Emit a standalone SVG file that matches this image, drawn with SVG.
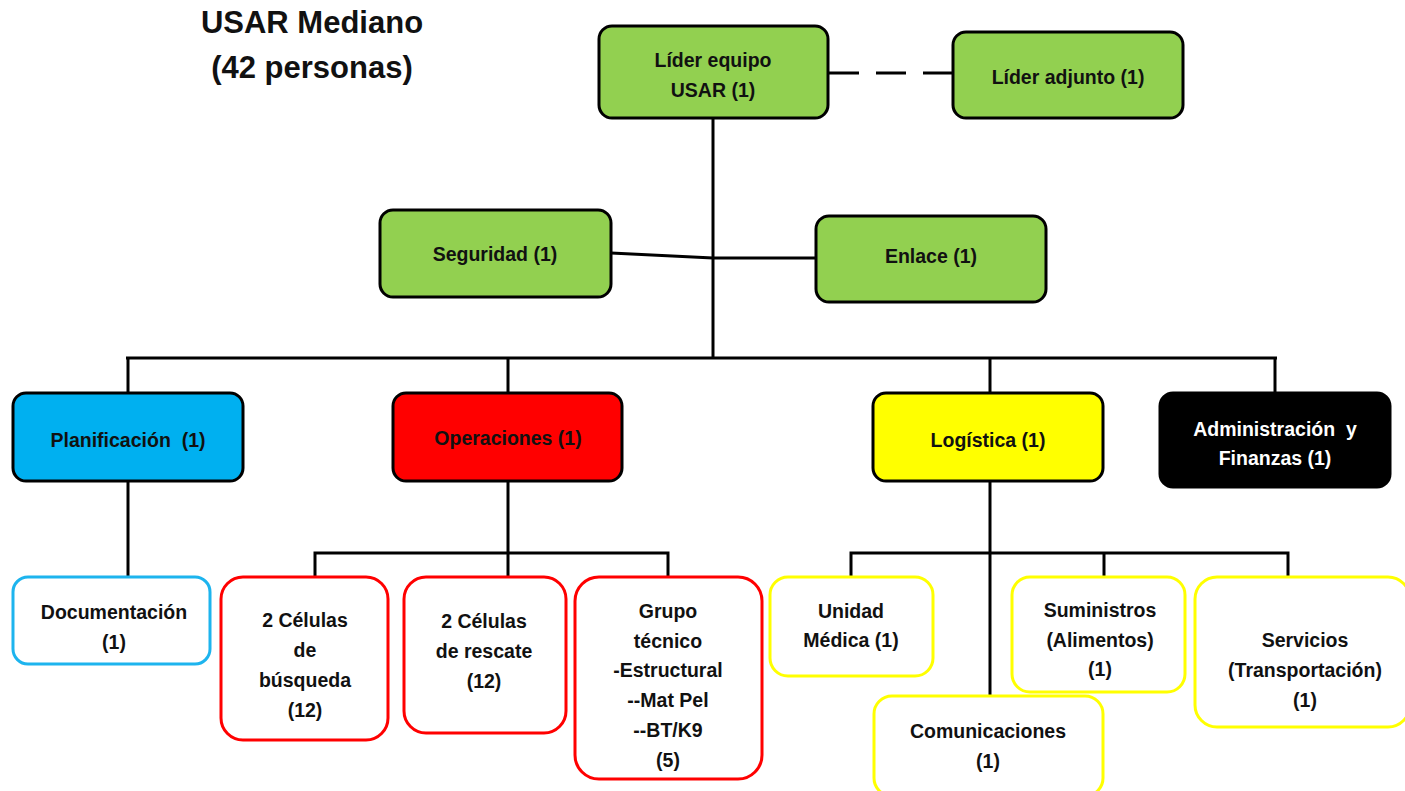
<svg xmlns="http://www.w3.org/2000/svg" width="1405" height="791" viewBox="0 0 1405 791">
<style>
text{font-family:"Liberation Sans",Arial,sans-serif;font-weight:bold;font-size:19.5px;text-anchor:middle;fill:#111}
.title{font-size:31px}
.g{fill:#92D050;stroke:#000;stroke-width:3}
.b{fill:#00B0F0;stroke:#000;stroke-width:3}
.r{fill:#FF0000;stroke:#000;stroke-width:3}
.y{fill:#FFFF00;stroke:#000;stroke-width:3}
.k{fill:#000;stroke:#000;stroke-width:3}
.cb{fill:#fff;stroke:#1DB4EE;stroke-width:3}
.cr{fill:#fff;stroke:#FF0000;stroke-width:3}
.cy{fill:#fff;stroke:#FFFF00;stroke-width:3}
.w{fill:#fff}
#connectors line,#connectors polyline{stroke:#000;stroke-width:3;fill:none}
</style>
<rect width="1405" height="791" fill="#fff"/>
<g id="title">
<text class="title" x="312" y="33">USAR Mediano</text>
<text class="title" x="312" y="78">(42 personas)</text>
</g>
<g id="connectors">
<line x1="829" y1="73" x2="953" y2="73" stroke-dasharray="30 17"/>
<line x1="713" y1="118" x2="713" y2="358"/>
<polyline points="611,253 713,258 816,258"/>
<line x1="126" y1="358" x2="1277" y2="358"/>
<line x1="128" y1="358" x2="128" y2="393"/>
<line x1="508" y1="358" x2="508" y2="393"/>
<line x1="990" y1="358" x2="990" y2="393"/>
<line x1="1275" y1="358" x2="1275" y2="393"/>
<line x1="128" y1="481" x2="128" y2="577"/>
<line x1="508" y1="481" x2="508" y2="577"/>
<polyline points="315,577 315,553 668,553 668,577"/>
<line x1="990" y1="481" x2="990" y2="696"/>
<polyline points="851,577 851,553 1288,553 1288,577"/>
<line x1="1104" y1="553" x2="1104" y2="577"/>
</g>
<g id="lider"><rect class="g" x="599" y="26" width="229" height="92" rx="13"/><text x="713" y="67">Líder equipo</text><text x="713" y="97">USAR (1)</text></g>
<g id="adjunto"><rect class="g" x="953" y="32" width="230" height="86" rx="13"/><text x="1068" y="84">Líder adjunto (1)</text></g>
<g id="seguridad"><rect class="g" x="380" y="210" width="231" height="87" rx="13"/><text x="495" y="261">Seguridad (1)</text></g>
<g id="enlace"><rect class="g" x="816" y="216" width="230" height="86" rx="13"/><text x="931" y="263">Enlace (1)</text></g>
<g id="planificacion"><rect class="b" x="13" y="393" width="230" height="88" rx="13"/><text x="128" y="447">Planificación&#160; (1)</text></g>
<g id="operaciones"><rect class="r" x="393" y="393" width="229" height="88" rx="13"/><text x="508" y="445">Operaciones (1)</text></g>
<g id="logistica"><rect class="y" x="873" y="393" width="230" height="88" rx="13"/><text x="988" y="447">Logística (1)</text></g>
<g id="admin"><rect class="k" x="1160" y="393" width="230" height="94" rx="13"/><text class="w" x="1275" y="436">Administración&#160; y</text><text class="w" x="1275" y="465">Finanzas (1)</text></g>
<g id="documentacion"><rect class="cb" x="13" y="577" width="197" height="87" rx="15"/><text x="114" y="619">Documentación</text><text x="114" y="649">(1)</text></g>
<g id="busqueda"><rect class="cr" x="221" y="577" width="167" height="163" rx="22"/><text x="305" y="627">2 Células</text><text x="305" y="657">de</text><text x="305" y="687">búsqueda</text><text x="305" y="717">(12)</text></g>
<g id="rescate"><rect class="cr" x="404" y="577" width="162" height="156" rx="22"/><text x="484" y="628">2 Células</text><text x="484" y="658">de rescate</text><text x="484" y="688">(12)</text></g>
<g id="grupo"><rect class="cr" x="575" y="577" width="187" height="202" rx="24"/><text x="668" y="618">Grupo</text><text x="668" y="648">técnico</text><text x="668" y="677">-Estructural</text><text x="668" y="707">--Mat Pel</text><text x="668" y="737">--BT/K9</text><text x="668" y="767">(5)</text></g>
<g id="medica"><rect class="cy" x="770" y="577" width="163" height="99" rx="18"/><text x="851" y="618">Unidad</text><text x="851" y="647">Médica (1)</text></g>
<g id="comunicaciones"><rect class="cy" x="874" y="696" width="229" height="100" rx="18"/><text x="988" y="738">Comunicaciones</text><text x="988" y="768">(1)</text></g>
<g id="suministros"><rect class="cy" x="1012" y="577" width="173" height="115" rx="18"/><text x="1100" y="617">Suministros</text><text x="1100" y="647">(Alimentos)</text><text x="1100" y="676">(1)</text></g>
<g id="servicios"><rect class="cy" x="1195" y="577" width="215" height="150" rx="22"/><text x="1305" y="647">Servicios</text><text x="1305" y="677">(Transportación)</text><text x="1305" y="707">(1)</text></g>
</svg>
